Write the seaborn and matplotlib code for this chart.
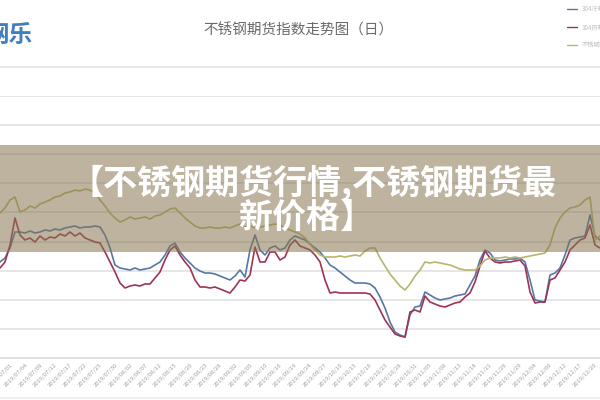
import numpy as np
import pandas as pd
import matplotlib
matplotlib.use('Agg')
import matplotlib.pyplot as plt
from matplotlib.patches import Rectangle
from matplotlib.lines import Line2D
import seaborn as sns

# index values (points), one every trading day on the same day axis
blue_vals = [96, 100, 110, 126, 126, 125, 127, 125, 126, 128, 127, 129, 128, 130, 131, 132, 130, 131, 131, 132, 131,
             123, 110, 93, 90, 89, 88, 90, 88, 89, 90,
             93, 96, 103, 112, 115, 106, 100, 95, 90, 87,
             85, 85, 84, 82, 80, 78, 82, 88, 81, 108,
             123, 108, 103, 110, 112, 108, 110, 118, 122, 120,
             118, 114, 110, 106, 100, 93, 90, 86, 82, 78,
             75, 75, 75, 74, 70, 61, 50, 36, 26, 23,
             21, 43, 51, 52, 66, 63, 60, 58, 59, 60,
             62, 63, 64, 73, 82, 98, 108, 105, 98, 97,
             98, 99, 99, 100, 96, 78, 58, 57, 56, 83,
             85, 90, 103, 118, 120, 121, 122, 143, 122, 118]

red_vals = [90, 96, 113, 140, 123, 118, 120, 116, 122, 118, 121, 120, 124, 122, 126, 122, 125, 120, 118, 116, 115,
            106, 96, 86, 75, 70, 72, 73, 72, 74, 74,
            80, 86, 98, 108, 112, 103, 96, 90, 78, 71,
            71, 70, 71, 69, 67, 65, 71, 78, 77, 83,
            111, 96, 96, 106, 106, 98, 101, 113, 118, 112,
            110, 108, 103, 96, 78, 65, 66, 65, 65, 65,
            65, 65, 65, 64, 58, 48, 38, 31, 24, 22,
            21, 46, 48, 46, 62, 56, 54, 52, 51, 53,
            55, 56, 61, 65, 76, 92, 107, 100, 96, 95,
            96, 96, 97, 98, 92, 66, 55, 56, 56, 78,
            80, 88, 96, 108, 113, 118, 120, 133, 113, 110]

olive_vals = [145, 150, 158, 161, 146, 148, 152, 150, 154, 156, 158, 161, 162, 165, 166, 168, 167, 169, 168, 165, 158,
              152, 145, 140, 136, 138, 141, 139, 140, 141, 139,
              142, 143, 146, 149, 150, 145, 140, 136, 132, 130,
              130, 131, 130, 130, 131, 130, 132, 134, 131, 132,
              130, 131, 132, 133, 134, 133, 130, 128, 126, 124,
              120, 114, 108, 103, 101, 101, 101, 102, 101, 102,
              103, 102, 107, 110, 110, 100, 92, 84, 78, 72,
              68, 74, 82, 88, 96, 95, 96, 95, 94, 93,
              91, 89, 88, 88, 88, 92, 98, 100, 100, 100,
              101, 100, 101, 100, 101, 102, 103, 104, 105, 113,
              130, 140, 146, 150, 151, 153, 158, 161, 118, 122]

series_names = ['304冷轧', '304热轧', '不锈钢期货']
series_colors = ['#5578a8', '#9e3452', '#b8b56c']

tick_labels = ['2019/07/01', '2019/07/04', '2019/07/09', '2019/07/12', '2019/07/17', '2019/07/22',
               '2019/07/25', '2019/07/30', '2019/08/02', '2019/08/07', '2019/08/12', '2019/08/15',
               '2019/08/20', '2019/08/23', '2019/08/28', '2019/09/02', '2019/09/05', '2019/09/10',
               '2019/09/16', '2019/09/19', '2019/09/24', '2019/09/27', '2019/10/10', '2019/10/15',
               '2019/10/18', '2019/10/23', '2019/10/28', '2019/10/31', '2019/11/05', '2019/11/08',
               '2019/11/13', '2019/11/18', '2019/11/21', '2019/11/26', '2019/11/29', '2019/12/04',
               '2019/12/09', '2019/12/12', '2019/12/17', '2019/12/20']

title_text = '不锈钢期货指数走势图（日）'
banner_line1 = '【不锈钢期货行情,不锈钢期货最'
banner_line2 = '新价格】'

sns.set_style('white')
plt.rcParams['font.family'] = ['Noto Sans CJK SC', 'DejaVu Sans']

# long table for seaborn
days = np.arange(len(blue_vals))
df = pd.concat([
    pd.DataFrame({'day': days, 'value': vals, 'series': name})
    for vals, name in zip([blue_vals, red_vals, olive_vals], series_names)
])

fig = plt.figure(figsize=(6, 4), dpi=100)
ax = fig.add_axes([0, 42 / 400, 1, 262 / 400])

sns.lineplot(data=df, x='day', y='value', hue='series', palette=series_colors,
             hue_order=series_names, linewidth=1.2, ax=ax, legend=False)

ax.set_xlim(0, len(days) - 1)
ax.set_ylim(0, 262)
ax.set_yticks(np.linspace(0, 262, 10))
ax.set_yticklabels([])
ax.yaxis.grid(True, color='#e4e4e4', linewidth=1.3)
ax.set_xticks(np.arange(2, len(days), 3))
ax.set_xticklabels(tick_labels, rotation=45, ha='right', rotation_mode='anchor',
                   fontsize=4.3, color='#a0a0a0')
ax.tick_params(axis='both', length=0, pad=3)
ax.set_xlabel('')
ax.set_ylabel('')
for side in ['top', 'left', 'right']:
    ax.spines[side].set_visible(False)
ax.spines['bottom'].set_color('#e0e0e0')
ax.spines['bottom'].set_linewidth(1.3)

# header: logo, title, separator
fig.text(-0.025, 1 - 35 / 400, '网乐', fontsize=17, color='#3f7fbf', fontweight='bold', va='center')
fig.text(0.497, 1 - 30 / 400, title_text, fontsize=10.5, color='#6a6a6a', ha='center', va='center')
fig.add_artist(Line2D([0, 1], [1 - 67 / 400] * 2, color='#e8e8e8', linewidth=1.5))
fig.add_artist(Line2D([0, 1], [1 - 398 / 400] * 2, color='#ececec', linewidth=1.2))

# small legend top right
handles = [Line2D([], [], color=c, linewidth=1.0) for c in series_colors]
fig.legend(handles, series_names, loc='upper left', bbox_to_anchor=(0.935, 1.0),
           frameon=False, fontsize=4.5, handlelength=1.6, labelspacing=1.6,
           labelcolor='#c0c0c0')

# overlay banner
fig.patches.append(Rectangle((0, 1 - 252 / 400), 1, 107 / 400, transform=fig.transFigure,
                             facecolor='#877650', alpha=0.55, edgecolor='none', zorder=2))
fig.text(0.522, 1 - 183 / 400, banner_line1, fontsize=24.5, fontweight='heavy', color='white',
         ha='center', va='center', zorder=3)
fig.text(0.51, 1 - 217 / 400, banner_line2, fontsize=24.5, fontweight='heavy', color='white',
         ha='center', va='center', zorder=3)

fig.savefig('out.png', dpi=100)
